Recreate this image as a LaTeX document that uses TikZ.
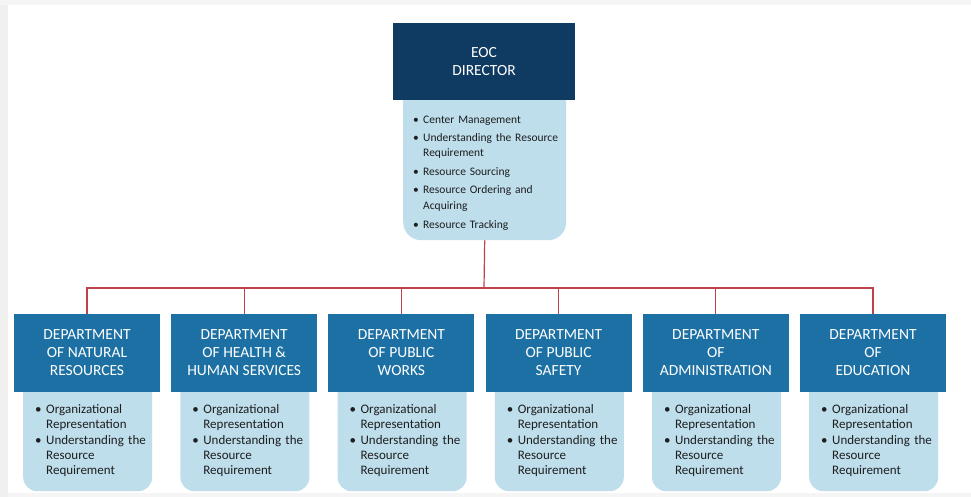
\documentclass[tikz,border=0pt]{standalone}
\usepackage{fontspec}
\setmainfont{Carlito}
\definecolor{navy}{RGB}{15,58,97}
\definecolor{deptblue}{RGB}{28,112,164}
\definecolor{lightblue}{RGB}{190,222,236}
\definecolor{conred}{RGB}{190,66,76}
\definecolor{listtext}{RGB}{30,30,30}
\newcommand{\bul}[2]{\par\noindent\hbox to #1{\textbullet\hfil}\parbox[t]{140pt}{#2\strut}}
\begin{document}
\begin{tikzpicture}[x=1pt,y=-1pt,
  headbox/.style={rectangle, inner sep=0pt, text=white, align=center,
    font=\fontsize{15.5}{18}\selectfont},
  dirhead/.style={headbox, fill=navy, minimum width=182pt, minimum height=77pt},
  depthead/.style={headbox, fill=deptblue, minimum width=146pt, minimum height=78pt},
  lightbox/.style={rectangle, fill=lightblue, inner sep=0pt, anchor=north west},
  dirlist/.style={anchor=north west, inner sep=0pt, text width=155pt, text=listtext,
    font=\fontsize{11.5}{15.5}\selectfont},
  deptlist/.style={anchor=north west, inner sep=0pt, text width=125pt, text=listtext,
    font=\fontsize{13}{15}\selectfont},
  conn/.style={draw=conred, line width=1.2pt}
]
\useasboundingbox (0,0) rectangle (971,497);
\fill[white] (0,0) rectangle (971,497);
\fill[gray!12] (0,0) rectangle (8,497);
\fill[gray!8] (0,0) rectangle (971,5);
\fill[gray!8] (8,493) rectangle (971,497);

% Director
\node[lightbox, minimum width=163pt, minimum height=160pt, rounded corners=18pt] (dirl) at (403,80) {};
\node[dirhead] (dir) at (484,61.5) {EOC\\DIRECTOR};
\node[dirlist] (dirt) at (413,105) {\raggedright\setlength{\parskip}{2.5pt}%
\bul{10pt}{Center Management}%
\bul{10pt}{Understanding the Resource\\Requirement}%
\bul{10pt}{Resource Sourcing}%
\bul{10pt}{Resource Ordering and\\Acquiring}%
\bul{10pt}{Resource Tracking}};

\coordinate (bus) at (484,288);
\draw[conn] (dirl.south) -- (bus);

\foreach \i/\txt in {
  1/{DEPARTMENT\\OF NATURAL\\RESOURCES},
  2/{DEPARTMENT\\OF HEALTH \&\\HUMAN SERVICES},
  3/{DEPARTMENT\\OF PUBLIC\\WORKS},
  4/{DEPARTMENT\\OF PUBLIC\\SAFETY},
  5/{DEPARTMENT\\OF\\ADMINISTRATION},
  6/{DEPARTMENT\\OF\\EDUCATION}}{
  \pgfmathsetmacro{\lx}{14+157.2*(\i-1)}
  \node[lightbox, minimum width=129pt, minimum height=121pt, rounded corners=14pt] (l\i) at (\lx+9,370) {};
  \node[depthead] (d\i) at (\lx+73,353) {\txt};
  \node[deptlist] (t\i) at (\lx+21,396) {\raggedright\setlength{\parskip}{2pt}%
\bul{11pt}{Organizational\\Representation}%
\bul{11pt}{Understanding the\\Resource\\Requirement}};
  \draw[conn] (bus) -| (d\i.north);
}
\end{tikzpicture}
\end{document}
